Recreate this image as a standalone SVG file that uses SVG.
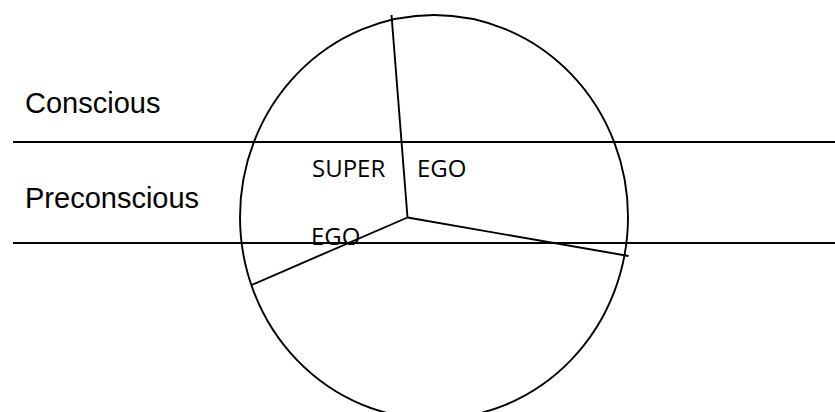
<svg xmlns="http://www.w3.org/2000/svg" width="835" height="412" viewBox="0 0 835 412">
<style>
.ln{stroke:#000;stroke-width:1.9;fill:none}
.lbl{font-family:"Liberation Sans",Arial,sans-serif;font-size:29px;fill:#000}
.in{font-family:"Open Sans","Noto Sans",sans-serif;font-size:24px;fill:#000}
</style>
<rect width="835" height="412" fill="#fff"/>
<g id="connectors">
<line class="ln" x1="13" y1="142" x2="835" y2="142"/>
<line class="ln" x1="13" y1="243" x2="835" y2="243"/>
<line class="ln" x1="407.5" y1="217.5" x2="391.5" y2="15"/>
<line class="ln" x1="407.5" y1="217.5" x2="251.5" y2="285"/>
<line class="ln" x1="407.5" y1="217.5" x2="628.5" y2="256"/>
</g>
<g id="psyche">
<ellipse class="ln" cx="434" cy="217" rx="194" ry="202"/>
</g>
<g id="conscious"><text class="lbl" x="25" y="113">Conscious</text></g>
<g id="preconscious"><text class="lbl" x="25" y="208">Preconscious</text></g>
<g id="superego">
<text class="in" x="312" y="177">SUPER</text>
<text class="in" x="417" y="177">EGO</text>
</g>
<g id="ego"><text class="in" x="311" y="245">EGO</text></g>
</svg>
